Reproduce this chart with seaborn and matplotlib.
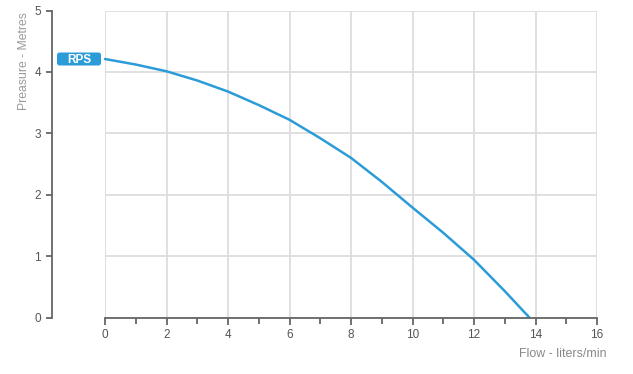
import matplotlib
matplotlib.use("Agg")
import matplotlib.pyplot as plt
import seaborn as sns
import pandas as pd
from matplotlib.ticker import MultipleLocator
from matplotlib.patches import FancyBboxPatch
from matplotlib.transforms import IdentityTransform

flow = [0, 1, 2, 3, 4, 5, 6, 7, 8, 9, 10, 11, 12, 13, 13.8]
pressure = [4.21, 4.12, 4.01, 3.86, 3.68, 3.46, 3.22, 2.92, 2.60, 2.21, 1.79, 1.38, 0.94, 0.43, 0.0]
series_name = "RPS"
x_ticks = [0, 2, 4, 6, 8, 10, 12, 14, 16]
y_ticks = [0, 1, 2, 3, 4, 5]

sns.set_theme(style="white")
plt.rcParams['font.family'] = ['Liberation Sans', 'DejaVu Sans']

blue = "#2b9cd8"
df = pd.DataFrame({"flow": flow, "pressure": pressure})

fig = plt.figure(figsize=(6.33, 3.74), dpi=100)
W, H = 633, 374
ax = fig.add_axes([105 / W, 1 - 317.5 / H, (597 - 105) / W, (317.5 - 10.5) / H])

sns.lineplot(data=df, x="flow", y="pressure", ax=ax, color=blue, linewidth=1.8, clip_on=False)

ax.set_xlim(0, 16)
ax.set_ylim(0, 5)
ax.set_xticks(x_ticks)
ax.set_yticks(y_ticks)
ax.xaxis.set_minor_locator(MultipleLocator(1))
ax.grid(True, which="major", color="#dddddd", linewidth=1.3)
ax.set_axisbelow(True)

for s in ["top", "right"]:
    ax.spines[s].set_visible(False)
ax.spines["left"].set_position(("outward", 38))
ax.spines["left"].set_color("#666666")
ax.spines["left"].set_linewidth(1.3)
ax.spines["bottom"].set_color("#666666")
ax.spines["bottom"].set_linewidth(1.3)

ax.tick_params(axis="y", which="major", left=True, length=4, width=1.3, color="#666666",
               labelsize=8.5, labelcolor="#555555", pad=4)
ax.tick_params(axis="x", which="major", bottom=True, length=5, width=1.3, color="#666666",
               labelsize=8.5, labelcolor="#555555", pad=3)
ax.tick_params(axis="x", which="minor", bottom=True, length=4, width=1.3, color="#666666")

ax.set_xlabel("Flow - liters/min", fontsize=8.9, color="#888888")
ax.xaxis.set_label_coords(1.02, -0.10)
ax.xaxis.label.set_horizontalalignment("right")
ax.set_ylabel("Preasure - Metres", fontsize=8.8, color="#999999")
ax.yaxis.set_label_coords(-0.152, 0.835)

# series label box at the start of the line
x0, y0 = ax.transData.transform((flow[0], pressure[0]))
box = FancyBboxPatch((x0 - 48, y0 - 6.5), 44, 13, boxstyle="round,pad=0,rounding_size=2.5",
                     fc=blue, ec="none", transform=IdentityTransform(), clip_on=False)
fig.add_artist(box)
fig.text(x0 - 26, y0 - 0.5, series_name, transform=IdentityTransform(), ha="center", va="center",
         color="white", fontsize=8.5, fontweight="bold")

fig.savefig("out.png", dpi=100, facecolor="white")
